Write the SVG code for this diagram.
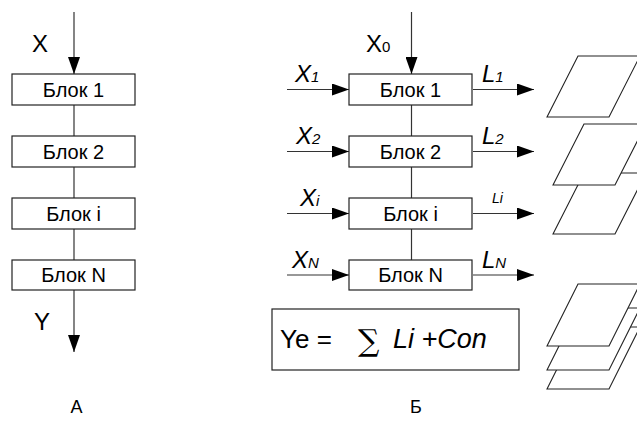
<svg xmlns="http://www.w3.org/2000/svg" width="637" height="423" viewBox="0 0 637 423">
  <style>
    .box { fill: #ffffff; stroke: #222222; stroke-width: 1.2; }
    .line { stroke: #333333; stroke-width: 1.2; fill: none; }
    .sheet { fill: #ffffff; stroke: #222222; stroke-width: 1.1; stroke-linejoin: miter; }
    .blk { font-family: "Liberation Sans", Arial, sans-serif; font-size: 20px; fill: #000; text-anchor: middle; }
    .lbl { font-family: "Liberation Sans", Arial, sans-serif; font-size: 24px; fill: #000; }
    .it { font-family: "Liberation Sans", Arial, sans-serif; font-style: italic; font-size: 24px; fill: #000; }
    .sub { font-size: 15px; }
    .cap { font-family: "Liberation Sans", Arial, sans-serif; font-size: 18px; fill: #000; text-anchor: middle; }
    .formula { font-family: "Liberation Sans", Arial, sans-serif; font-size: 26px; fill: #000; }
  </style>
  <defs>
    <marker id="arrow" markerWidth="17" markerHeight="12" refX="17" refY="6" orient="auto" markerUnits="userSpaceOnUse">
      <path d="M0,0 L17,6 L0,12 Z" fill="#000"/>
    </marker>
  </defs>

  <!-- connectors -->
  <g id="connectors">
    <!-- scheme A -->
    <line class="line" x1="74" y1="12" x2="74" y2="74" marker-end="url(#arrow)"/>
    <line class="line" x1="74" y1="105" x2="74" y2="136"/>
    <line class="line" x1="74" y1="167" x2="74" y2="198"/>
    <line class="line" x1="74" y1="229" x2="74" y2="260"/>
    <line class="line" x1="74" y1="290" x2="74" y2="352" marker-end="url(#arrow)"/>
    <!-- scheme B: main chain -->
    <line class="line" x1="411.5" y1="12" x2="411.5" y2="74" marker-end="url(#arrow)"/>
    <line class="line" x1="411.5" y1="105" x2="411.5" y2="136"/>
    <line class="line" x1="411.5" y1="167" x2="411.5" y2="198"/>
    <line class="line" x1="411.5" y1="229" x2="411.5" y2="260"/>
    <!-- inputs -->
    <line class="line" x1="287" y1="89.5" x2="349" y2="89.5" marker-end="url(#arrow)"/>
    <line class="line" x1="287" y1="151.5" x2="349" y2="151.5" marker-end="url(#arrow)"/>
    <line class="line" x1="287" y1="213.5" x2="349" y2="213.5" marker-end="url(#arrow)"/>
    <line class="line" x1="287" y1="275" x2="349" y2="275" marker-end="url(#arrow)"/>
    <!-- outputs -->
    <line class="line" x1="473" y1="89.5" x2="534" y2="89.5" marker-end="url(#arrow)"/>
    <line class="line" x1="473" y1="151.5" x2="534" y2="151.5" marker-end="url(#arrow)"/>
    <line class="line" x1="473" y1="213.5" x2="534" y2="213.5" marker-end="url(#arrow)"/>
    <line class="line" x1="473" y1="275" x2="534" y2="275" marker-end="url(#arrow)"/>
  </g>

  <!-- scheme A blocks -->
  <g id="a-block-1"><rect class="box" x="12" y="74" width="123" height="31"/><text class="blk" x="73.5" y="96.5">Блок 1</text></g>
  <g id="a-block-2"><rect class="box" x="12" y="136" width="123" height="31"/><text class="blk" x="73.5" y="158.5">Блок 2</text></g>
  <g id="a-block-i"><rect class="box" x="12" y="198" width="123" height="31"/><text class="blk" x="73.5" y="220.5">Блок i</text></g>
  <g id="a-block-n"><rect class="box" x="12" y="260" width="123" height="30"/><text class="blk" x="73.5" y="282">Блок N</text></g>
  <g id="a-labels">
    <text class="lbl" x="32" y="52">X</text>
    <text class="lbl" x="34" y="330">Y</text>
    <text class="cap" x="76.5" y="413">А</text>
  </g>

  <!-- scheme B blocks -->
  <g id="b-block-1"><rect class="box" x="349" y="74" width="123" height="31"/><text class="blk" x="410.5" y="96.5">Блок 1</text></g>
  <g id="b-block-2"><rect class="box" x="349" y="136" width="123" height="31"/><text class="blk" x="410.5" y="158.5">Блок 2</text></g>
  <g id="b-block-i"><rect class="box" x="349" y="198" width="123" height="31"/><text class="blk" x="410.5" y="220.5">Блок i</text></g>
  <g id="b-block-n"><rect class="box" x="349" y="260" width="123" height="30"/><text class="blk" x="410.5" y="282">Блок N</text></g>

  <g id="b-labels">
    <text class="lbl" x="366" y="52">X<tspan class="sub">0</tspan></text>
    <text class="it" x="295" y="82">X<tspan class="sub">1</tspan></text>
    <text class="it" x="296" y="144">X<tspan class="sub">2</tspan></text>
    <text class="it" x="300" y="206">X<tspan class="sub">i</tspan></text>
    <text class="it" x="292" y="268">X<tspan class="sub">N</tspan></text>
    <text class="it" x="482" y="82">L<tspan class="sub">1</tspan></text>
    <text class="it" x="482" y="144">L<tspan class="sub">2</tspan></text>
    <text class="it" x="492" y="203" style="font-size:14px">Li</text>
    <text class="it" x="482" y="268">L<tspan class="sub">N</tspan></text>
    <text class="cap" x="416" y="413">Б</text>
  </g>

  <g id="formula">
    <rect class="box" x="272" y="309" width="247" height="61"/>
    <text class="formula" x="280" y="348">Ye =</text>
    <text class="formula" x="358" y="351" style="font-family:'DejaVu Serif','Liberation Serif',serif;font-size:30px">∑</text>
    <text class="formula" x="393" y="348" style="font-style:italic;font-size:27px">Li +Con</text>
  </g>

  <!-- output sheets -->
  <g id="sheet-1">
    <polygon class="sheet" points="547,117 578,56 640,56 609,117"/>
  </g>
  <g id="sheet-stack-i">
    <polygon class="sheet" points="553,234 584,173 646,173 615,234"/>
    <polygon class="sheet" points="553,185 584,124 646,124 615,185"/>
  </g>
  <g id="sheet-stack-n">
    <polygon class="sheet" points="547,389 578,327 640,327 609,389"/>
    <polygon class="sheet" points="547,370 578,308 640,308 609,370"/>
    <polygon class="sheet" points="547,346 578,284 640,284 609,346"/>
  </g>
</svg>
